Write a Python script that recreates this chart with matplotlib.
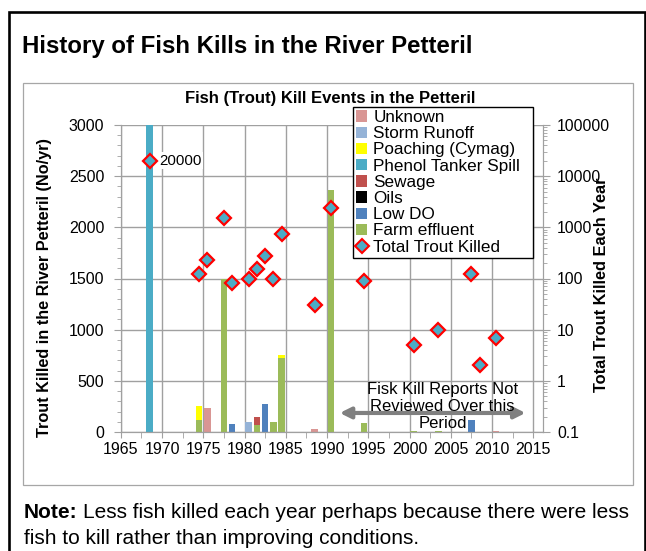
import matplotlib
matplotlib.use("Agg")
import matplotlib.pyplot as plt
import numpy as np
from matplotlib.patches import Rectangle, FancyArrowPatch
from matplotlib.lines import Line2D
from matplotlib.ticker import MultipleLocator, LogLocator, NullFormatter, FixedLocator

plt.rcParams['font.family'] = ['Liberation Sans', 'DejaVu Sans']

# ---------------- data ----------------
event_years = [1968.5, 1974.5, 1975.5, 1977.5, 1978.5, 1980.5, 1981.5, 1982.5,
               1983.5, 1984.5, 1988.5, 1990.5, 1994.5, 2000.5, 2003.5, 2007.5,
               2008.5, 2010.5]
unknown      = [0, 0, 235, 0, 0, 0, 0, 0, 0, 0, 25, 0, 0, 0, 0, 0, 2, 7]
storm_runoff = [0, 0, 0, 0, 0, 100, 0, 0, 0, 0, 0, 0, 0, 0, 0, 0, 0, 0]
poaching     = [0, 135, 0, 0, 0, 0, 0, 0, 0, 25, 0, 0, 0, 0, 0, 0, 0, 0]
phenol       = [20000, 0, 0, 0, 0, 0, 0, 0, 0, 0, 0, 0, 0, 0, 0, 0, 0, 0]
sewage       = [0, 0, 0, 0, 0, 0, 75, 0, 0, 0, 0, 0, 0, 0, 0, 0, 0, 0]
oils         = [0, 0, 0, 0, 0, 0, 0, 0, 0, 0, 0, 0, 0, 0, 0, 0, 0, 0]
low_do       = [0, 0, 0, 0, 80, 0, 0, 270, 0, 0, 0, 0, 0, 0, 0, 120, 0, 0]
farm         = [0, 120, 0, 1500, 0, 0, 70, 0, 100, 725, 0, 2360, 85, 5, 10, 0, 0, 0]
total_killed = [20000, 125, 235, 1500, 80, 100, 150, 275, 100, 750, 30, 2370,
                88, 5, 10, 120, 2, 7]

series_names = ["Unknown", "Storm Runoff", "Poaching (Cymag)", "Phenol Tanker Spill",
                "Sewage", "Oils", "Low DO", "Farm effluent"]
series_vals = [unknown, storm_runoff, poaching, phenol, sewage, oils, low_do, farm]
series_cols = ["#D99694", "#95B3D7", "#FFFF00", "#4BACC6", "#C0504D", "#000000",
               "#4F81BD", "#9BBB59"]

x_ticks = list(range(1965, 2016, 5))
left_ticks = [0, 500, 1000, 1500, 2000, 2500, 3000]
right_ticks = [0.1, 1, 10, 100, 1000, 10000, 100000]
right_labels = ["0.1", "1", "10", "100", "1000", "10000", "100000"]

# ---------------- figure ----------------
W, H = 646, 551
fig = plt.figure(figsize=(W / 100, H / 100), dpi=100)

def fx(px):
    return px / W

def fy(py):
    return 1 - py / H

# outer black border
fig.patches.append(Rectangle((fx(8.5), fy(560)), fx(644.5) - fx(8.5), fy(12) - fy(560),
                             transform=fig.transFigure, fill=False, edgecolor="black",
                             linewidth=1.9, zorder=0))
# inner grey chart box
fig.patches.append(Rectangle((fx(23.5), fy(485)), fx(633) - fx(23.5), fy(83) - fy(485),
                             transform=fig.transFigure, fill=False, edgecolor="#A6A6A6",
                             linewidth=0.9, zorder=0))

fig.text(fx(22), fy(47), "History of Fish Kills in the River Petteril", fontsize=17.3,
         fontweight="bold", ha="left", va="center")
fig.text(fx(330), fy(98), "Fish (Trout) Kill Events in the Petteril", fontsize=12,
         fontweight="bold", ha="center", va="center")

note_bold = fig.text(fx(24), fy(512), "Note:", fontsize=15, fontweight="bold",
                     ha="left", va="center")
fig.canvas.draw()
bb = note_bold.get_window_extent()
fig.text(bb.x1 / W + fx(5), fy(512), "Less fish killed each year perhaps because there were less",
         fontsize=15.0, ha="left", va="center")
fig.text(fx(24), fy(538), "fish to kill rather than improving conditions.",
         fontsize=15.0, ha="left", va="center")

fig.text(fx(45), fy(288), "Trout Killed in the River Petteril (No/yr)", fontsize=11.7,
         fontweight="bold", rotation=90, ha="center", va="center")
fig.text(fx(602), fy(285), "Total Trout Killed Each Year", fontsize=11.8,
         fontweight="bold", rotation=90, ha="center", va="center")

# plot area
L, R, T, B = 120.8, 543, 125, 432
ax = fig.add_axes([fx(L), fy(B), fx(R) - fx(L), fy(T) - fy(B)])
ax.set_xlim(1965, 1965 + (R - L) / 8.25)
ax.set_ylim(0, 3000)

bottom = np.zeros(len(event_years))
for name, vals, col in reversed(list(zip(series_names, series_vals, series_cols))):
    v = np.array(vals, dtype=float)
    ax.bar(event_years, v, width=0.8, bottom=bottom, color=col, zorder=2,
           edgecolor="none")
    bottom += v

ax.set_axisbelow(True)
ax.xaxis.set_major_locator(FixedLocator(x_ticks))
ax.xaxis.set_minor_locator(MultipleLocator(2.5))
ax.yaxis.set_major_locator(FixedLocator(left_ticks))
ax.yaxis.set_minor_locator(MultipleLocator(100))
ax.grid(True, which="major", color="#A0A0A0", linewidth=1.0)
for sp in ax.spines.values():
    sp.set_color("#A0A0A0")
ax.spines["top"].set_visible(False)
ax.tick_params(axis="both", which="both", colors="#A0A0A0", labelcolor="black",
               labelsize=11.5, direction="out")
ax.tick_params(axis="x", which="major", length=4, pad=3)
ax.tick_params(axis="x", which="minor", length=4)
ax.tick_params(axis="y", which="major", length=5, pad=7)
ax.tick_params(axis="y", which="minor", length=3)

ax2 = ax.twinx()
ax2.set_yscale("log")
ax2.set_ylim(0.1, 100000)
ax2.yaxis.set_major_locator(FixedLocator(right_ticks))
ax2.set_yticklabels(right_labels)
ax2.yaxis.set_minor_locator(LogLocator(base=10, subs=np.arange(2, 10), numticks=20))
ax2.yaxis.set_minor_formatter(NullFormatter())
for sp in ax2.spines.values():
    sp.set_color("#A0A0A0")
ax2.spines["top"].set_visible(False)
ax2.tick_params(axis="y", which="both", colors="#A0A0A0", labelcolor="black",
                labelsize=11.3, direction="out")
ax2.tick_params(axis="y", which="major", length=5, pad=5)
ax2.tick_params(axis="y", which="minor", length=3)

ax2.plot(event_years, total_killed, linestyle="none", marker="D", markersize=7.5,
         markerfacecolor="#4BACC6", markeredgecolor="#FF0000", markeredgewidth=1.6,
         zorder=5)
ax2.annotate(f"{total_killed[0]:.0f}", (event_years[0], total_killed[0]),
             xytext=(7, 0), textcoords="offset points", ha="left", va="center",
             fontsize=10.8, bbox=dict(facecolor="white", edgecolor="none", pad=1))

# arrow + annotation
ax.add_patch(FancyArrowPatch((1991.2, 186), (2014.4, 186), arrowstyle="<|-|>",
                             mutation_scale=16, color="#808080", linewidth=3,
                             zorder=3))
ax.text(2004.0, 250, "Fisk Kill Reports Not\nReviewed Over this\nPeriod", fontsize=12,
        ha="center", va="center", linespacing=1.2, zorder=4)

# legend
handles = [Rectangle((0, 0), 1, 1, facecolor=c, edgecolor="none") for c in series_cols]
handles.append(Line2D([], [], linestyle="none", marker="D", markersize=7,
                      markerfacecolor="#4BACC6", markeredgecolor="#FF0000",
                      markeredgewidth=1.5))
leg = ax2.legend(handles, series_names + ["Total Trout Killed"],
                 loc="upper left",
                 bbox_to_anchor=(fx(353), fy(257), fx(533) - fx(353), fy(107) - fy(257)),
                 mode="expand",
                 bbox_transform=fig.transFigure, fontsize=12.3, frameon=True,
                 fancybox=False, edgecolor="black", framealpha=1,
                 handlelength=0.65, handleheight=0.65, handletextpad=0.35,
                 labelspacing=0.07, borderpad=0.18, borderaxespad=0)
leg.get_frame().set_linewidth(1.0)
leg.set_zorder(10)

fig.savefig("out.png", dpi=100)
